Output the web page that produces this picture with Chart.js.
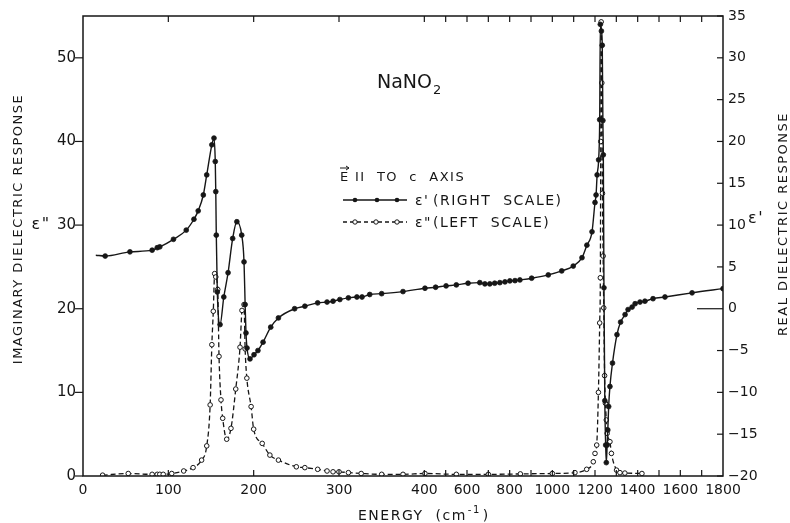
<!DOCTYPE html>
<html>
<head>
<meta charset="utf-8">
<script src="https://cdn.jsdelivr.net/npm/chart.js@4.4.0/dist/chart.umd.min.js"></script>
<style>
  html, body { margin: 0; padding: 0; background: #fff; }
  #wrap { width: 790px; height: 523px; }
</style>
</head>
<body>
<div id="wrap"><canvas id="chart" width="790" height="523"></canvas></div>
<script>
// === DATA ===
// eps' : real part, right scale
const realEnergy = [15, 26, 55, 81, 87, 90, 106, 121, 130, 135, 141, 145, 151, 153.5, 155, 155.6, 156.2, 157.4,
  160.6, 165, 170, 175.4, 180.3, 186, 188.7, 190, 191, 192.2, 195.7, 200.4, 205, 211, 220, 229, 248, 260, 275,
  286, 293, 301, 311, 321, 327, 336, 350, 375, 403, 453, 502, 550, 605, 660, 684, 707, 730, 754, 778, 801, 825,
  848, 903, 981, 1044, 1098, 1139, 1162, 1186, 1200, 1205, 1210, 1217, 1222, 1225, 1230, 1234, 1237, 1239, 1242,
  1246, 1250, 1253, 1257, 1260, 1264, 1270, 1282, 1303, 1320, 1341, 1355, 1374, 1388, 1411, 1434, 1472, 1528,
  1655, 1800];
const realValue = [6.4, 6.3, 6.8, 7.0, 7.3, 7.4, 8.3, 9.4, 10.7, 11.7, 13.6, 16.0, 19.6, 20.4, 17.6, 14.0, 8.8, 2.0,
  -1.9, 1.4, 4.3, 8.4, 10.4, 8.8, 5.6, 0.5, -2.9, -4.7, -6.0, -5.5, -5.0, -4.0, -2.2, -1.1, 0.0, 0.3, 0.7,
  0.8, 0.9, 1.1, 1.3, 1.4, 1.4, 1.7, 1.8, 2.05, 2.45, 2.57, 2.73, 2.85, 3.05, 3.12, 2.97, 2.97, 3.05, 3.12, 3.21,
  3.33, 3.36, 3.44, 3.65, 4.04, 4.52, 5.1, 6.1, 7.6, 9.2, 12.7, 13.6, 16.0, 17.8, 22.6, 34.0, 33.2, 31.5, 22.5,
  18.4, 2.5, -11, -16.3, -18.4, -16.3, -14.5, -11.7, -9.3, -6.5, -3.1, -1.6, -0.7, -0.1, 0.2, 0.6, 0.8, 0.9,
  1.2, 1.4, 1.9, 2.4];

// eps'' : imaginary part, left scale
const imagEnergy = [23, 53, 81, 87, 90, 94, 104, 118, 129, 139, 145, 149, 151, 152.7, 154.3, 155.6, 157.9, 159.4,
  161.7, 163.7, 168.4, 173.4, 179, 184, 186.3, 188.7, 190, 192, 197, 200, 210, 219, 229, 250, 260, 275, 286, 293,
  300, 311, 326, 350, 375, 403, 550, 700, 850, 1000, 1106, 1161, 1192, 1200, 1208, 1216, 1222, 1225, 1227, 1229,
  1232, 1235, 1238, 1241, 1245, 1249, 1253, 1257, 1270, 1277, 1301, 1317, 1340, 1420];
const imagValue = [0.1, 0.3, 0.2, 0.2, 0.2, 0.2, 0.3, 0.6, 1.0, 1.9, 3.6, 8.5, 15.7, 19.7, 24.2, 23.8, 22.3, 14.3,
  9.1, 6.9, 4.4, 5.7, 10.4, 15.4, 19.8, 20.5, 15.2, 11.7, 8.3, 5.6, 3.9, 2.5, 1.9, 1.1, 1.0, 0.8, 0.6, 0.5,
  0.5, 0.4, 0.3, 0.2, 0.2, 0.3, 0.2, 0.2, 0.25, 0.3, 0.4, 0.8, 1.7, 2.7, 3.7, 10, 18.3, 23.7, 40, 54.3,
  47, 33.8, 26.3, 20.1, 12.0, 8.7, 6.7, 5.1, 4.1, 2.7, 0.7, 0.4, 0.35, 0.3];

// tick labels
const xTickLabels = [0, 100, 200, 300, 400, 600, 800, 1000, 1200, 1400, 1600, 1800];
const xTickMarks = [100, 200, 300, 400, 500, 600, 700, 800, 900, 1000, 1100, 1200, 1300, 1400, 1500, 1600, 1700];
const leftTicks = [0, 10, 20, 30, 40, 50];
const rightTicks = [-20, -15, -10, -5, 0, 5, 10, 15, 20, 25, 30, 35];

// energy axis is compressed 4x above 400 cm-1
function toAxis(e) {
  return e <= 400 ? e : 400 + (e - 400) / 4;
}

const ink = "#161616";
const FONT = '"DejaVu Sans", sans-serif';

// === DRAW FRAME, TICK MARKS AND TEXT ===
const decorPlugin = {
  id: "decor",
  afterDraw(chart) {
    const { ctx, chartArea: a, scales } = chart;
    ctx.save();
    ctx.strokeStyle = ink;
    ctx.fillStyle = ink;
    ctx.lineWidth = 1.5;
    ctx.strokeRect(a.left, a.top, a.right - a.left, a.bottom - a.top);

    ctx.lineWidth = 1.2;
    const line = (x1, y1, x2, y2) => {
      ctx.beginPath(); ctx.moveTo(x1, y1); ctx.lineTo(x2, y2); ctx.stroke();
    };
    xTickMarks.forEach(e => {
      const px = scales.x.getPixelForValue(toAxis(e));
      line(px, a.bottom, px, a.bottom - 6);
      line(px, a.top, px, a.top + 6);
    });
    leftTicks.forEach(v => {
      const py = scales.yL.getPixelForValue(v);
      line(a.left - 8, py, a.left, py);
    });
    rightTicks.forEach(v => {
      const py = scales.yR.getPixelForValue(v);
      line(a.right - (v === 0 ? 26 : 6), py, a.right, py);
    });

    // title
    ctx.textBaseline = "alphabetic";
    ctx.textAlign = "left";
    ctx.font = "19px " + FONT;
    ctx.fillText("NaNO", 377, 88);
    let w = ctx.measureText("NaNO").width;
    ctx.font = "13px " + FONT;
    ctx.fillText("2", 377 + w + 1, 94);

    // legend
    ctx.letterSpacing = "1.5px";
    ctx.font = "13px " + FONT;
    ctx.fillText("E", 340, 181);
    ctx.lineWidth = 1;
    line(340, 168, 349, 168);
    line(346, 166, 349, 168);
    line(346, 170, 349, 168);
    ctx.fillText("II  TO  c  AXIS", 355, 181);

    ctx.lineWidth = 1.3;
    line(343, 200, 407, 200);
    [355, 377, 397].forEach(x => {
      ctx.beginPath(); ctx.arc(x, 200, 2.3, 0, Math.PI * 2); ctx.fill();
    });
    ctx.setLineDash([4, 3]);
    line(343, 222, 407, 222);
    ctx.setLineDash([]);
    ctx.lineWidth = 1;
    [355, 376, 397].forEach(x => {
      ctx.beginPath(); ctx.arc(x, 222, 2.2, 0, Math.PI * 2);
      ctx.fillStyle = "#fff"; ctx.fill(); ctx.stroke();
    });
    ctx.fillStyle = ink;
    ctx.font = "14px " + FONT;
    ctx.fillText("\u03b5'", 415, 205);
    ctx.fillText("(RIGHT  SCALE)", 433, 205);
    ctx.fillText("\u03b5\"", 415, 227);
    ctx.fillText("(LEFT  SCALE)", 433, 227);

    // x title
    ctx.font = "14px " + FONT;
    ctx.fillText("ENERGY  (cm", 358, 520);
    w = ctx.measureText("ENERGY  (cm").width;
    ctx.font = "10px " + FONT;
    ctx.fillText("-1", 358 + w + 1, 513);
    const w2 = ctx.measureText("-1").width;
    ctx.font = "14px " + FONT;
    ctx.fillText(")", 358 + w + w2 + 3, 520);

    // y titles
    ctx.textAlign = "center";
    ctx.textBaseline = "middle";
    ctx.font = "13px " + FONT;
    ctx.save();
    ctx.translate(19, 229);
    ctx.rotate(-Math.PI / 2);
    ctx.fillText("IMAGINARY DIELECTRIC RESPONSE", 0, 0);
    ctx.restore();
    ctx.save();
    ctx.translate(784, 224);
    ctx.rotate(-Math.PI / 2);
    ctx.fillText("REAL DIELECTRIC RESPONSE", 0, 0);
    ctx.restore();

    ctx.font = "16px " + FONT;
    ctx.fillText("\u03b5\"", 41, 225);
    ctx.fillText("\u03b5'", 756, 219);
    ctx.restore();
  }
};

const realPoints = realEnergy.map((e, i) => ({ x: toAxis(e), y: realValue[i] }));
const imagPoints = imagEnergy.map((e, i) => ({ x: toAxis(e), y: imagValue[i] }));

new Chart(document.getElementById("chart"), {
  type: "line",
  data: {
    datasets: [
      {
        label: "\u03b5' (RIGHT SCALE)",
        data: realPoints,
        yAxisID: "yR",
        borderColor: ink,
        backgroundColor: ink,
        borderWidth: 1.4,
        cubicInterpolationMode: "monotone",
        pointRadius: ctx => (ctx.dataIndex === 0 ? 0 : 2.4),
        pointBorderWidth: 0.8,
        pointBackgroundColor: ink,
        pointBorderColor: ink,
        order: 1
      },
      {
        label: "\u03b5\" (LEFT SCALE)",
        data: imagPoints,
        yAxisID: "yL",
        borderColor: ink,
        backgroundColor: "#fff",
        borderWidth: 1.3,
        borderDash: [5, 3],
        cubicInterpolationMode: "monotone",
        pointRadius: 2.3,
        pointBorderWidth: 1,
        pointBackgroundColor: "#fff",
        pointBorderColor: ink,
        order: 2
      }
    ]
  },
  options: {
    responsive: false,
    animation: false,
    devicePixelRatio: 1,
    layout: { padding: { top: 16, left: 0, right: 0, bottom: 0 } },
    plugins: { legend: { display: false }, tooltip: { enabled: false } },
    scales: {
      x: {
        type: "linear",
        position: "bottom",
        min: 0,
        max: 750,
        afterFit: s => { s.height = 47; },
        afterBuildTicks: s => { s.ticks = xTickLabels.map(e => ({ value: toAxis(e) })); },
        grid: { display: false, drawTicks: false },
        border: { display: false },
        ticks: {
          autoSkip: false,
          maxRotation: 0,
          padding: 6,
          color: ink,
          font: { family: "DejaVu Sans", size: 14 },
          callback: (v, i) => String(xTickLabels[i])
        }
      },
      yL: {
        type: "linear",
        position: "left",
        min: 0,
        max: 55,
        afterFit: s => { s.width = 83; },
        afterBuildTicks: s => { s.ticks = leftTicks.map(v => ({ value: v })); },
        grid: { display: false, drawTicks: false },
        border: { display: false },
        ticks: {
          padding: 7,
          color: ink,
          font: { family: "DejaVu Sans", size: 15 },
          callback: v => String(v)
        }
      },
      yR: {
        type: "linear",
        position: "right",
        min: -20,
        max: 35,
        afterFit: s => { s.width = 67; },
        afterBuildTicks: s => { s.ticks = rightTicks.map(v => ({ value: v })); },
        grid: { display: false, drawTicks: false },
        border: { display: false },
        ticks: {
          padding: 5,
          color: ink,
          font: { family: "DejaVu Sans", size: 14 },
          callback: v => (v < 0 ? "\u2212" + Math.abs(v) : String(v))
        }
      }
    }
  },
  plugins: [decorPlugin]
});
</script>
</body>
</html>
